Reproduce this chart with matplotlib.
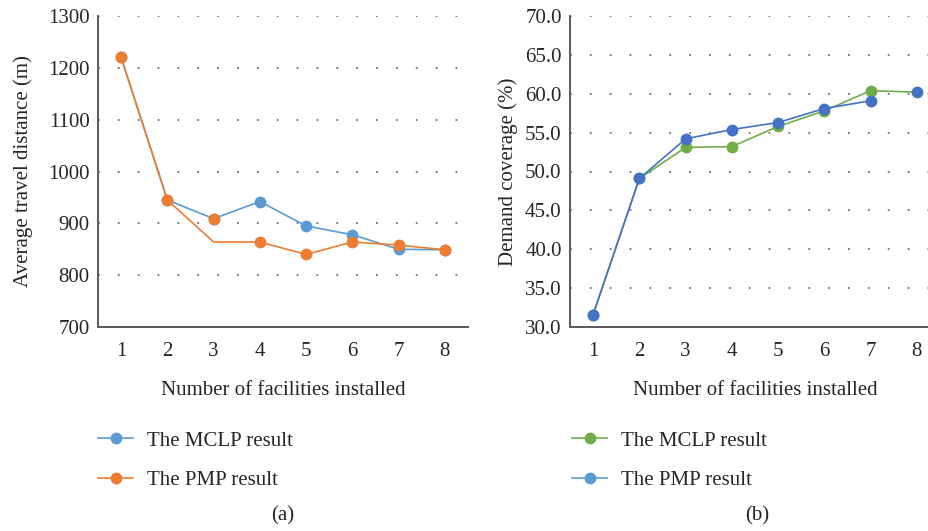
import matplotlib
matplotlib.use("Agg")
import matplotlib.pyplot as plt
from matplotlib.lines import Line2D

plt.rcParams["font.family"] = ["Liberation Serif", "DejaVu Serif"]

facilities = [1, 2, 3, 4, 5, 6, 7, 8]

# (a) average travel distance (m)
dist_mclp = [1220, 945, 909, 942, 895, 878, 850, 849]
dist_pmp = [1220, 945, 864, 864, 840, 864, 858, 849]

# (b) demand coverage (%)
cov_mclp = [31.6, 49.1, 53.1, 53.2, 55.8, 57.8, 60.4, 60.2]
cov_pmp = [31.6, 49.1, 54.2, 55.4, 56.3, 58.1, 59.1]

c_blue = "#5B9BD5"
c_orange = "#ED7D31"
c_green = "#70AD47"
c_dblue = "#4472C4"
txt = "#262626"
spine_c = "#595959"
fs = 15

fig = plt.figure(figsize=(9.29, 5.31), dpi=100)
ax1 = fig.add_axes([98 / 929, 1 - 327 / 531, 370 / 929, 311 / 531])
ax2 = fig.add_axes([570 / 929, 1 - 327 / 531, 370 / 929, 311 / 531])


def style(ax, yticks, fmt):
    ax.set_xlim(0.5, 8.5)
    ax.set_ylim(yticks[0], yticks[-1])
    ax.set_yticks(yticks)
    ax.set_yticklabels([fmt.format(v) for v in yticks])
    ax.set_xticks(facilities)
    for s in ["top", "right"]:
        ax.spines[s].set_visible(False)
    for s in ["left", "bottom"]:
        ax.spines[s].set_color(spine_c)
        ax.spines[s].set_linewidth(1.4)
    ax.tick_params(axis="both", length=0, labelsize=fs, colors=txt)
    ax.tick_params(axis="x", pad=11)
    ax.tick_params(axis="y", pad=6)
    for v in yticks[1:]:
        ax.axhline(v, color="#6f6f6f", lw=1.3, ls=(0, (1, 10)), zorder=0)
    ax.set_xlabel("Number of facilities installed", fontsize=fs, color=txt, labelpad=14)


ms = 7.5
lw = 1.2

# panel (a)
style(ax1, [700, 800, 900, 1000, 1100, 1200, 1300], "{:d}")
l1, = ax1.plot(facilities, dist_mclp, color=c_blue, lw=lw, marker="o", ms=ms,
               label="The MCLP result", clip_on=False)
l2, = ax1.plot(facilities, dist_pmp, color=c_orange, lw=lw, marker="o", ms=ms,
               markevery=[0, 1, 3, 4, 5, 6, 7], label="The PMP result", clip_on=False)
ax1.plot(facilities[2], dist_mclp[2], "o", color=c_orange, ms=ms)
ax1.set_ylabel("Average travel distance (m)", fontsize=fs, color=txt, labelpad=11)

# panel (b)
style(ax2, [30, 35, 40, 45, 50, 55, 60, 65, 70], "{:.1f}")
l3, = ax2.plot(facilities, cov_mclp, color=c_green, lw=lw, marker="o", ms=ms,
               markevery=list(range(7)), clip_on=False)
ax2.plot(facilities[:len(cov_pmp)], cov_pmp, color=c_dblue, lw=lw, marker="o", ms=ms,
         clip_on=False)
ax2.plot(facilities[7], cov_mclp[7], "o", color=c_dblue, ms=ms)
ax2.set_ylabel("Demand coverage (%)", fontsize=fs, color=txt, labelpad=5)

h3 = Line2D([], [], color=c_green, lw=lw, marker="o", ms=ms)
h4 = Line2D([], [], color=c_blue, lw=lw, marker="o", ms=ms)

leg_kw = dict(loc="upper left", frameon=False, fontsize=fs, handlelength=1.7,
              handletextpad=0.65, labelspacing=0.95, borderaxespad=0, borderpad=0,
              labelcolor=txt)
fig.legend([l1, l2], ["The MCLP result", "The PMP result"],
           bbox_to_anchor=(98 / 929, 1 - 431 / 531), **leg_kw)
fig.legend([h3, h4], ["The MCLP result", "The PMP result"],
           bbox_to_anchor=(572 / 929, 1 - 431 / 531), **leg_kw)

fig.text(283 / 929, 1 - 516 / 531, "(a)", fontsize=fs, color=txt, ha="center", va="center")
fig.text(757 / 929, 1 - 516 / 531, "(b)", fontsize=fs, color=txt, ha="center", va="center")

fig.savefig("out.png", dpi=100)
